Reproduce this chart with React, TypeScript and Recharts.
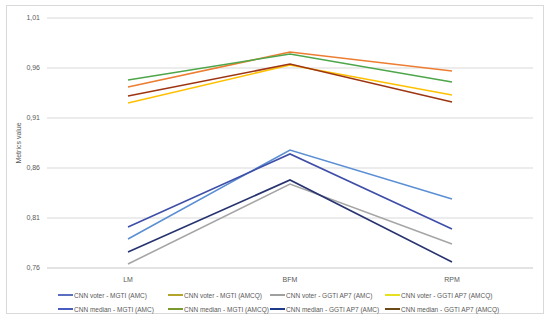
import { LineChart, Line, XAxis, YAxis, CartesianGrid } from 'recharts';

const categories = ['LM', 'BFM', 'RPM'];

const seriesNames = [
  'CNN voter - MGTI (AMC)',
  'CNN voter - MGTI (AMCQ)',
  'CNN voter - GGTI AP7 (AMC)',
  'CNN voter - GGTI AP7 (AMCQ)',
  'CNN median - MGTI (AMC)',
  'CNN median - MGTI (AMCQ)',
  'CNN median - GGTI AP7 (AMC)',
  'CNN median - GGTI AP7 (AMCQ)',
];

// values per series, in the order of categories
const voterMgtiAmc = [0.789, 0.878, 0.829];
const voterMgtiAmcq = [0.941, 0.976, 0.957];
const voterGgtiAmc = [0.764, 0.844, 0.784];
const voterGgtiAmcq = [0.925, 0.963, 0.933];
const medianMgtiAmc = [0.801, 0.874, 0.799];
const medianMgtiAmcq = [0.948, 0.974, 0.946];
const medianGgtiAmc = [0.776, 0.848, 0.766];
const medianGgtiAmcq = [0.932, 0.964, 0.926];

const seriesValues = [
  voterMgtiAmc,
  voterMgtiAmcq,
  voterGgtiAmc,
  voterGgtiAmcq,
  medianMgtiAmc,
  medianMgtiAmcq,
  medianGgtiAmc,
  medianGgtiAmcq,
];

const yTicks = [0.76, 0.81, 0.86, 0.91, 0.96, 1.01];

const lineColors = ['#5b8fd3', '#ed7d31', '#a5a5a5', '#ffc000', '#3f4fa8', '#4ea64a', '#26336f', '#9e3512'];
const legendColors = ['#5b6fc0', '#b5a42a', '#a0a0a0', '#e5e020', '#4a5cbf', '#7a9a30', '#1f3a8a', '#6b4a1a'];

const data = categories.map((c, i) => {
  const row: Record<string, string | number> = { name: c };
  seriesNames.forEach((s, j) => {
    row[s] = seriesValues[j][i];
  });
  return row;
});

const font = '"Liberation Sans", Arial, sans-serif';
const legendCols = [58, 168, 270, 385];
const legendRows = [295, 309];

export default function App() {
  return (
    <div style={{ position: 'absolute', left: 0, top: 0, width: 550, height: 326, background: '#fff', fontFamily: font }}>
      <div style={{ position: 'absolute', left: 6, top: 5, width: 536, height: 307, border: '1px solid #d9d9d9' }} />
      <LineChart width={550} height={326} data={data} margin={{ top: 18, right: 17, left: 0, bottom: 38 }}>
        <CartesianGrid vertical={false} stroke="#d9d9d9" strokeWidth={1} />
        <XAxis
          dataKey="name"
          axisLine={{ stroke: '#d9d9d9' }}
          tickLine={false}
          height={20}
          tickMargin={3}
          padding={{ left: 81, right: 81 }}
          tick={{ fill: '#595959', fontSize: 7, fontFamily: font }}
        />
        <YAxis
          domain={[0.76, 1.01]}
          ticks={yTicks}
          width={47}
          axisLine={false}
          tickLine={false}
          tickSize={5}
          tickMargin={2}
          tickFormatter={(v: number) => v.toFixed(2).replace('.', ',')}
          tick={{ fill: '#595959', fontSize: 7, fontFamily: font }}
          label={{
            content: () => (
              <text transform="translate(21,143) rotate(-90)" textAnchor="middle" fontSize={7} fill="#595959" fontFamily={font}>
                Metrics value
              </text>
            ),
          }}
        />
        {seriesNames.map((s, j) => (
          <Line
            key={s}
            type="linear"
            dataKey={s}
            stroke={lineColors[j]}
            strokeWidth={1.6}
            dot={false}
            isAnimationActive={false}
          />
        ))}
      </LineChart>
      {seriesNames.map((s, j) => (
        <div
          key={s}
          style={{
            position: 'absolute',
            left: legendCols[j % 4],
            top: legendRows[Math.floor(j / 4)] - 5,
            height: 10,
            display: 'flex',
            alignItems: 'center',
            fontSize: 6.5,
            color: '#595959',
            whiteSpace: 'nowrap',
          }}
        >
          <span style={{ display: 'inline-block', width: 15, height: 2, background: legendColors[j], marginRight: 1 }} />
          {s}
        </div>
      ))}
    </div>
  );
}
